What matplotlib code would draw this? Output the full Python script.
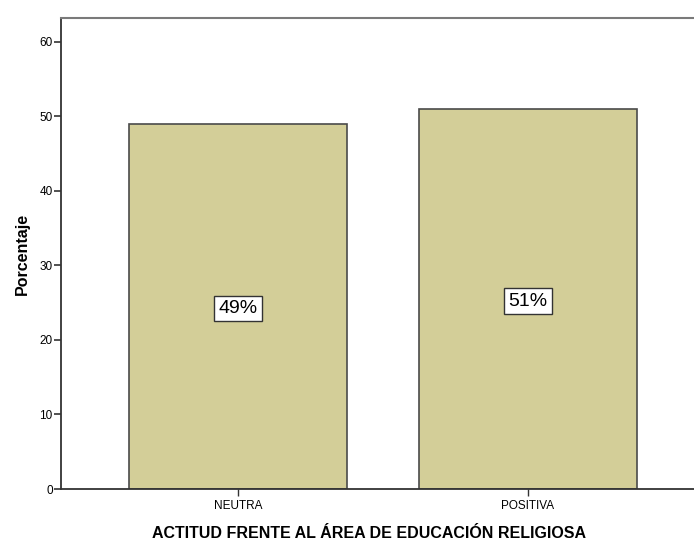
import matplotlib
matplotlib.use("Agg")
from matplotlib import pyplot as plt

categories = ["NEUTRA", "POSITIVA"]
percent = [49, 51]
labels = ["49%", "51%"]
yticks = [0, 10, 20, 30, 40, 50, 60]

plt.rcParams['font.family'] = ['Liberation Sans', 'DejaVu Sans']

fig = plt.figure(figsize=(6.94, 5.41), dpi=100)
ax = fig.add_axes([0.0879, 0.0961, 0.912, 0.8706])

x = list(range(len(categories)))
ax.bar(x, percent, width=0.752, color="#d3ce98", edgecolor="#4a4a4a", linewidth=1.2, zorder=2)

# percentage boxes in the middle of each bar
for xi, v, lab in zip(x, percent, labels):
    ax.text(xi, v / 2 - 0.3, lab, ha="center", va="center", fontsize=14,
            bbox=dict(boxstyle="square,pad=0.22", facecolor="white", edgecolor="#333333", linewidth=1))

ax.set_xlim(-0.61, 1.572)
ax.set_ylim(0, 63.2)
ax.set_yticks(yticks)
ax.set_xticks(x)
ax.set_xticklabels(categories, fontsize=8.5)
ax.tick_params(axis="y", labelsize=8.5, length=5, width=1.2, color="#333333", pad=1)
ax.tick_params(axis="x", length=5, width=1, color="#333333", pad=3)

for side in ["left", "bottom"]:
    ax.spines[side].set_color("#333333")
    ax.spines[side].set_linewidth(1.3)
ax.spines["top"].set_color("#7a7a7a")
ax.spines["top"].set_linewidth(1.5)
ax.spines["right"].set_visible(False)

ax.set_ylabel("Porcentaje", fontsize=11.5, fontweight="bold", labelpad=7)
ax.set_xlabel("ACTITUD FRENTE AL ÁREA DE EDUCACIÓN RELIGIOSA", fontsize=11.5, fontweight="bold", labelpad=10)
ax.xaxis.label.set_x(0.487)

fig.savefig("out.png", dpi=100)
